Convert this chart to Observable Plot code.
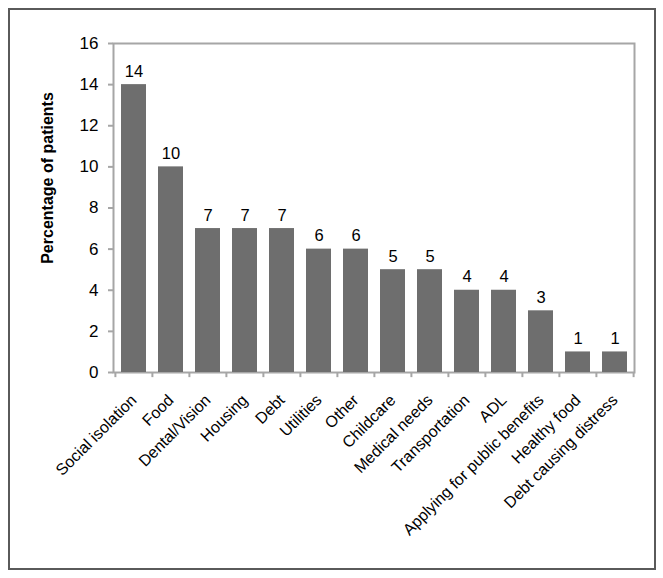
<!DOCTYPE html>
<html>
<head>
<meta charset="utf-8">
<script src="https://cdn.jsdelivr.net/npm/d3@7"></script>
<script src="https://cdn.jsdelivr.net/npm/@observablehq/plot@0.6"></script>
<style>
  html, body { margin: 0; padding: 0; background: #fff; }
  #wrap { position: relative; width: 663px; height: 578px; font-family: "Liberation Sans", Arial, sans-serif; }
  #border { position: absolute; left: 8px; top: 8px; width: 644px; height: 558px; border: 2px solid #5a5a5a; pointer-events: none; }
  #chart { position: absolute; left: 0; top: 0; }
</style>
</head>
<body>
<div id="wrap"><div id="chart"></div><div id="border"></div></div>
<script>
const categories = ["Social isolation", "Food", "Dental/Vision", "Housing", "Debt", "Utilities", "Other", "Childcare", "Medical needs", "Transportation", "ADL", "Applying for public benefits", "Healthy food", "Debt causing distress"];
const values = [14, 10, 7, 7, 7, 6, 6, 5, 5, 4, 4, 3, 1, 1];
const yTicks = [0, 2, 4, 6, 8, 10, 12, 14, 16];
const yLabel = "Percentage of patients";

const data = categories.map((c, i) => ({category: c, value: values[i]}));

const W = 663, H = 578;
const mL = 113, mR = 29, mT = 43, mB = 206;
const step = (W - mL - mR) / categories.length;
const tickLen = 0.25; // in data units (~5px) below baseline

const plot = Plot.plot({
  width: W,
  height: H,
  marginLeft: mL,
  marginRight: mR,
  marginTop: mT,
  marginBottom: mB,
  style: {fontFamily: "Liberation Sans, Arial, sans-serif", background: "transparent", overflow: "visible"},
  x: {domain: categories, paddingInner: 0.33, paddingOuter: 0.165, label: null},
  y: {domain: [0, 16], label: null},
  marks: [
    Plot.frame({stroke: "#a6a6a6", strokeWidth: 2}),
    Plot.barY(data, {x: "category", y: "value", fill: "#6e6e6e"}),
    Plot.text(data, {x: "category", y: "value", text: d => String(d.value), lineAnchor: "bottom", dy: -8, fontSize: 16.5, fill: "#000"}),
    // x ticks at band boundaries (Excel style)
    Plot.ruleX(data, {x: "category", y1: 0, y2: -tickLen, dx: -step / 2, stroke: "#a6a6a6", strokeWidth: 2}),
    Plot.ruleX(data.slice(-1), {x: "category", y1: 0, y2: -tickLen, dx: step / 2, stroke: "#a6a6a6", strokeWidth: 2}),
    Plot.axisX({tickSize: 0, tickRotate: -45, tickPadding: 25, fontSize: 16, fill: "#000", label: null}),
    Plot.axisY({ticks: yTicks, tickSize: 5, tickPadding: 10, fontSize: 17, stroke: "#a6a6a6", strokeWidth: 2, fill: "#000", label: null, tickFormat: d => String(d)}),
    Plot.ruleX([0], {frameAnchor: "left", stroke: "#a6a6a6", strokeWidth: 2}),
    Plot.text([yLabel], {frameAnchor: "left", textAnchor: "middle", text: d => d, rotate: -90, dx: -66, dy: -30, fontSize: 16, fontWeight: "bold", fill: "#000"})
  ]
});
document.getElementById("chart").appendChild(plot);
</script>
</body>
</html>
